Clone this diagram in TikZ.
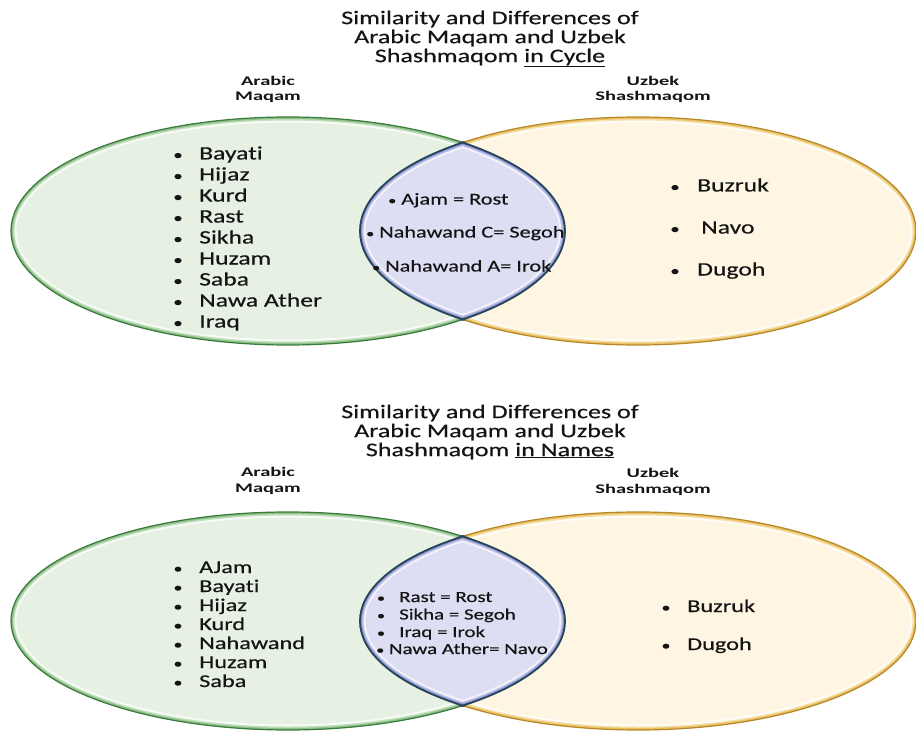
\documentclass[tikz,border=0pt]{standalone}
\usepackage{fontspec}
\setmainfont[FakeStretch=1.35,FakeBold=0.4,Ligatures=NoCommon]{Carlito}
\newfontfamily\lblfont[FakeStretch=1.55,Ligatures=NoCommon]{Carlito}
\definecolor{txt}{HTML}{141414}
\definecolor{gfill}{HTML}{E7F1E3}
\definecolor{ghi}{HTML}{F8FCF7}
\definecolor{gmid}{HTML}{C3DFBE}
\definecolor{gband}{HTML}{8CC086}
\definecolor{gline}{HTML}{3A7A3C}
\definecolor{yfill}{HTML}{FEF6E3}
\definecolor{yhi}{HTML}{FFFDF7}
\definecolor{ymid}{HTML}{F7E2AE}
\definecolor{yband}{HTML}{EABF62}
\definecolor{yline}{HTML}{B5882C}
\definecolor{lfill}{HTML}{DDDEF3}
\definecolor{lhi}{HTML}{F3F3FC}
\definecolor{lmid}{HTML}{BFC2E8}
\definecolor{lband}{HTML}{8C93CD}
\definecolor{lline}{HTML}{26455A}
\newcommand{\smallbul}{{\fontsize{12}{12}\selectfont•}}
\tikzset{
  item/.style={anchor=base west, inner sep=0pt, text=txt, font=\fontsize{19}{21}\selectfont},
  bitem/.style={item, font=\fontsize{18}{19}\selectfont},
  lens/.style={item, font=\fontsize{16.5}{17}\selectfont},
  blens/.style={item, font=\fontsize{15.5}{17}\selectfont},
  bul/.style={anchor=base, inner sep=0pt, text=txt, font=\fontsize{14}{14}\selectfont},
  bbul/.style={bul, font=\fontsize{13.5}{14}\selectfont},
  sbul/.style={bul, font=\fontsize{12}{12}\selectfont},
  title/.style={align=center, inner sep=0pt, text=txt, font=\fontsize{19.3}{19}\selectfont},
  lbl/.style={align=center, inner sep=0pt, text=txt, font=\lblfont\bfseries\fontsize{13.2}{15.5}\selectfont}
}
\begin{document}
\begin{tikzpicture}[x=1pt,y=-1pt]
\useasboundingbox (0,0) rectangle (916,733);
\fill[white] (0,0) rectangle (916,733);

\foreach \cy/\ry in {231/114, 621/109} {
  % left ellipse
  \fill[gfill] (288,\cy) ellipse [x radius=277pt, y radius=\ry pt];
  \begin{scope}
    \clip (288,\cy) ellipse [x radius=277pt, y radius=\ry pt];
    \draw[ghi, line width=11pt] (288,\cy) ellipse [x radius=277pt, y radius=\ry pt];
    \draw[gmid, line width=7pt] (288,\cy) ellipse [x radius=277pt, y radius=\ry pt];
    \draw[gband, line width=4pt] (288,\cy) ellipse [x radius=277pt, y radius=\ry pt];
  \end{scope}
  \draw[gline, line width=1.2pt] (288,\cy) ellipse [x radius=277pt, y radius=\ry pt];
  % right ellipse
  \fill[yfill] (638,\cy) ellipse [x radius=278pt, y radius=\ry pt];
  \begin{scope}
    \clip (638,\cy) ellipse [x radius=278pt, y radius=\ry pt];
    \draw[yhi, line width=11pt] (638,\cy) ellipse [x radius=278pt, y radius=\ry pt];
    \draw[ymid, line width=7pt] (638,\cy) ellipse [x radius=278pt, y radius=\ry pt];
    \draw[yband, line width=4pt] (638,\cy) ellipse [x radius=278pt, y radius=\ry pt];
  \end{scope}
  \draw[yline, line width=1.2pt] (638,\cy) ellipse [x radius=278pt, y radius=\ry pt];
  % lens
  \begin{scope}
    \clip (288,\cy) ellipse [x radius=277pt, y radius=\ry pt];
    \clip (638,\cy) ellipse [x radius=278pt, y radius=\ry pt];
    \fill[lfill] (340,\cy-130) rectangle (590,\cy+130);
    \draw[lhi, line width=11pt] (288,\cy) ellipse [x radius=277pt, y radius=\ry pt];
    \draw[lhi, line width=11pt] (638,\cy) ellipse [x radius=278pt, y radius=\ry pt];
    \draw[lmid, line width=7pt] (288,\cy) ellipse [x radius=277pt, y radius=\ry pt];
    \draw[lmid, line width=7pt] (638,\cy) ellipse [x radius=278pt, y radius=\ry pt];
    \draw[lband, line width=4pt] (288,\cy) ellipse [x radius=277pt, y radius=\ry pt];
    \draw[lband, line width=4pt] (638,\cy) ellipse [x radius=278pt, y radius=\ry pt];
  \end{scope}
  \begin{scope}
    \clip (288,\cy) ellipse [x radius=278.5pt, y radius=\ry pt+1.5pt];
    \draw[lline, line width=1.8pt] (638,\cy) ellipse [x radius=278pt, y radius=\ry pt];
  \end{scope}
  \begin{scope}
    \clip (638,\cy) ellipse [x radius=279.5pt, y radius=\ry pt+1.5pt];
    \draw[lline, line width=1.8pt] (288,\cy) ellipse [x radius=277pt, y radius=\ry pt];
  \end{scope}
}

% ---------- top diagram ----------
\node[title] (ttop) at (490,39) {Similarity and Differences of\\Arabic Maqam and Uzbek\\Shashmaqom \underline{in Cycle}};
\node[lbl] (arabtop) at (268,89.5) {Arabic\\Maqam};
\node[lbl] (uzbtop) at (653,89.5) {Uzbek\\Shashmaqom};

\foreach \t [count=\i] in {Bayati,Hijaz,Kurd,Rast,Sikha,Huzam,Saba,Nawa Ather,Iraq} {
  \pgfmathsetmacro{\yy}{153+21*(\i-1)+6.5}
  \node[bul] (tlb\i) at (178,\yy) {•};
  \node[item] (tl\i) at (199,\yy) {\t};
}
\node[lens] (tm1) at (388,204.5) {\smallbul\ Ajam = Rost};
\node[lens] (tm2) at (366,237.5) {\smallbul\ Nahawand C= Segoh};
\node[lens] (tm3) at (372,271.5) {\smallbul\ Nahawand A= Irok};

\node[bul] (trb1) at (675,191.5) {•};
\node[item] (tr1) at (697,191.5) {Buzruk};
\node[bul] (trb2) at (675,233.5) {•};
\node[item] (tr2) at (701,233.5) {Navo};
\node[bul] (trb3) at (675,275.5) {•};
\node[item] (tr3) at (697,275.5) {Dugoh};

% ---------- bottom diagram ----------
\node[title] (tbot) at (490,432) {Similarity and Differences of\\Arabic Maqam and Uzbek\\Shashmaqom \underline{in Names}};
\node[lbl] (arabbot) at (268,481) {Arabic\\Maqam};
\node[lbl] (uzbbot) at (653,482) {Uzbek\\Shashmaqom};

\foreach \t [count=\i] in {AJam,Bayati,Hijaz,Kurd,Nahawand,Huzam,Saba} {
  \pgfmathsetmacro{\yy}{567+19*(\i-1)+6}
  \node[bbul] (blb\i) at (178,\yy) {•};
  \node[bitem] (bl\i) at (199,\yy) {\t};
}
\foreach \t [count=\i] in {Rast = Rost,Sikha = Segoh,Iraq = Irok} {
  \pgfmathsetmacro{\yy}{597+17.5*(\i-1)+5}
  \node[sbul] (bmb\i) at (381,\yy) {•};
  \node[blens] (bm\i) at (399,\yy) {\t};
}
\node[blens] (bm4) at (376,654) {\smallbul\ Nawa Ather= Navo};

\node[bbul] (brb1) at (666,612) {•};
\node[bitem] (br1) at (687,612) {Buzruk};
\node[bbul] (brb2) at (666,650) {•};
\node[bitem] (br2) at (687,650) {Dugoh};
\end{tikzpicture}
\end{document}
